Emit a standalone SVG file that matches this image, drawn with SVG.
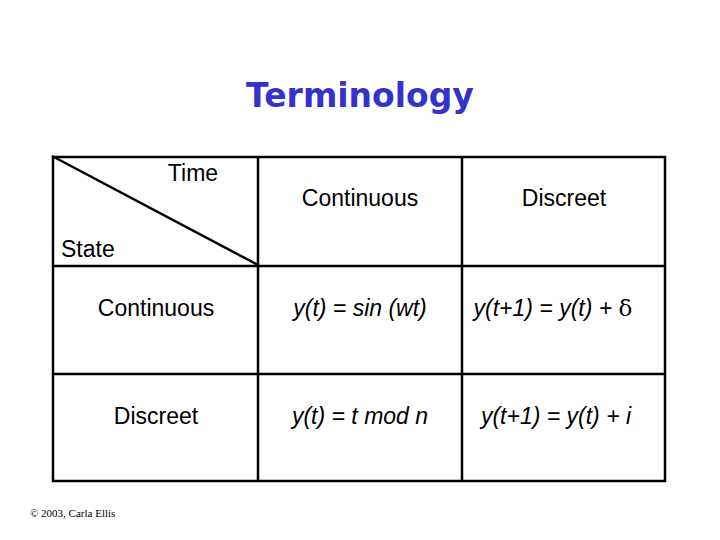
<svg xmlns="http://www.w3.org/2000/svg" width="720" height="540" viewBox="0 0 720 540">
<style>
.t{font-family:"Liberation Sans",Arial,sans-serif;font-size:23px;fill:#000}
.i{font-style:italic}
.ln{stroke:#000;stroke-width:2.5;fill:none}
</style>
<rect width="720" height="540" fill="#fff"/>
<text x="360" y="107" text-anchor="middle" font-family="DejaVu Sans,sans-serif" font-weight="bold" font-size="33" fill="#3333cc">Terminology</text>
<g id="connectors">
<rect class="ln" x="53" y="157" width="612" height="324"/>
<line class="ln" x1="258" y1="157" x2="258" y2="481"/>
<line class="ln" x1="462" y1="157" x2="462" y2="481"/>
<line class="ln" x1="53" y1="266" x2="665" y2="266"/>
<line class="ln" x1="53" y1="374" x2="665" y2="374"/>
<line class="ln" x1="52" y1="156" x2="258" y2="265"/>
</g>
<g id="header">
<text class="t" x="193" y="181" text-anchor="middle">Time</text>
<text class="t" x="61" y="257">State</text>
<text class="t" x="360" y="206" text-anchor="middle">Continuous</text>
<text class="t" x="564" y="206" text-anchor="middle">Discreet</text>
</g>
<g id="row1">
<text class="t" x="156" y="316" text-anchor="middle">Continuous</text>
<text class="t i" x="360" y="316" text-anchor="middle">y(t) = sin (wt)</text>
<text class="t i" x="553" y="316" text-anchor="middle">y(t+1) = y(t) + <tspan font-family="DejaVu Serif,serif" font-style="normal">δ</tspan></text>
</g>
<g id="row2">
<text class="t" x="156" y="424" text-anchor="middle">Discreet</text>
<text class="t i" x="360" y="424" text-anchor="middle">y(t) = t mod n</text>
<text class="t i" x="556" y="424" text-anchor="middle">y(t+1) = y(t) + i</text>
</g>
<text x="30" y="517" font-family="Liberation Serif,serif" font-size="11">© 2003, Carla Ellis</text>
</svg>
